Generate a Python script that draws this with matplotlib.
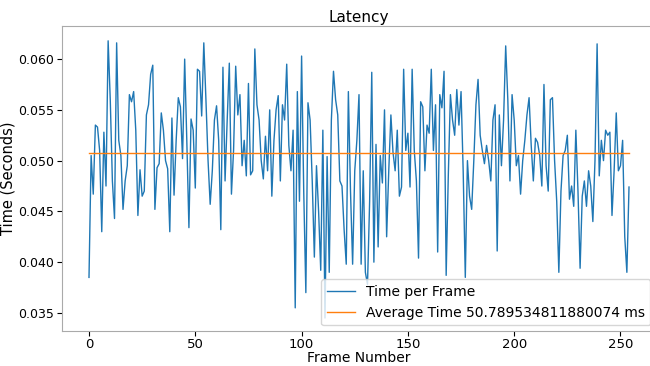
import matplotlib
matplotlib.use("Agg")
from matplotlib import pyplot as plt

# latency per frame in seconds
frame_times = [
    0.0385, 0.0505, 0.0467, 0.0535, 0.0533, 0.0510, 0.0430, 0.0528, 0.0475, 0.0618,
    0.0560, 0.0480, 0.0443, 0.0616, 0.0520, 0.0505, 0.0452, 0.0480, 0.0495, 0.0565,
    0.0558, 0.0568, 0.0530, 0.0446, 0.0491, 0.0465, 0.0470, 0.0545, 0.0555, 0.0585,
    0.0594, 0.0452, 0.0493, 0.0497, 0.0547, 0.0530, 0.0500, 0.0492, 0.0430, 0.0542,
    0.0466, 0.0520, 0.0562, 0.0553, 0.0502, 0.0600, 0.0520, 0.0434, 0.0541, 0.0530,
    0.0473, 0.0590, 0.0588, 0.0544, 0.0616, 0.0560, 0.0500, 0.0457, 0.0490, 0.0540,
    0.0554, 0.0520, 0.0432, 0.0592, 0.0480, 0.0540, 0.0596, 0.0467, 0.0510, 0.0593,
    0.0545, 0.0565, 0.0495, 0.0520, 0.0485, 0.0576, 0.0486, 0.0490, 0.0610, 0.0555,
    0.0540, 0.0500, 0.0482, 0.0524, 0.0490, 0.0550, 0.0465, 0.0520, 0.0550, 0.0564,
    0.0480, 0.0555, 0.0540, 0.0595, 0.0515, 0.0490, 0.0530, 0.0355, 0.0568, 0.0460,
    0.0603, 0.0470, 0.0370, 0.0557, 0.0540, 0.0480, 0.0405, 0.0495, 0.0450, 0.0392,
    0.0530, 0.0345, 0.0504, 0.0390, 0.0540, 0.0588, 0.0560, 0.0545, 0.0480, 0.0475,
    0.0432, 0.0398, 0.0568, 0.0470, 0.0398, 0.0490, 0.0520, 0.0565, 0.0398, 0.0490,
    0.0390, 0.0378, 0.0460, 0.0587, 0.0400, 0.0516, 0.0415, 0.0505, 0.0478, 0.0550,
    0.0425, 0.0490, 0.0545, 0.0508, 0.0490, 0.0530, 0.0465, 0.0474, 0.0590, 0.0510,
    0.0527, 0.0474, 0.0590, 0.0510, 0.0480, 0.0404, 0.0558, 0.0553, 0.0490, 0.0535,
    0.0527, 0.0590, 0.0510, 0.0555, 0.0410, 0.0565, 0.0552, 0.0588, 0.0387, 0.0485,
    0.0565, 0.0540, 0.0525, 0.0570, 0.0535, 0.0568, 0.0490, 0.0385, 0.0500, 0.0465,
    0.0452, 0.0500, 0.0555, 0.0580, 0.0525, 0.0510, 0.0497, 0.0515, 0.0500, 0.0480,
    0.0540, 0.0555, 0.0411, 0.0545, 0.0495, 0.0540, 0.0613, 0.0560, 0.0480, 0.0565,
    0.0540, 0.0495, 0.0505, 0.0467, 0.0500, 0.0520, 0.0545, 0.0562, 0.0515, 0.0480,
    0.0522, 0.0518, 0.0505, 0.0475, 0.0575, 0.0495, 0.0470, 0.0560, 0.0562, 0.0500,
    0.0460, 0.0390, 0.0470, 0.0505, 0.0510, 0.0525, 0.0462, 0.0475, 0.0455, 0.0530,
    0.0470, 0.0394, 0.0465, 0.0480, 0.0455, 0.0490, 0.0475, 0.0440, 0.0500, 0.0615,
    0.0485, 0.0520, 0.0500, 0.0530, 0.0525, 0.0528, 0.0446, 0.0490, 0.0547, 0.0490,
    0.0495, 0.0520, 0.0425, 0.0390, 0.0474,
]
frames = list(range(len(frame_times)))

# average as printed in the legend
avg_ms = 50.789534811880074
avg_line = [avg_ms / 1000] * len(frames)

fig = plt.figure(figsize=(6.5, 3.66), dpi=100)
top, bottom = 26, 331
ax = fig.add_axes([62 / 650, 1 - bottom / 366, (656 - 62) / 650, (bottom - top) / 366])

ax.plot(frames, frame_times, lw=1.0, label="Time per Frame")
ax.plot(frames, avg_line, lw=1.0, label=f"Average Time {avg_ms} ms")

ax.set_ylim(0.03322, 0.06326)
ax.set_title("Latency", fontsize=11, pad=3)
ax.set_xlabel("Frame Number", fontsize=10)
ax.set_ylabel("Time (Seconds)", fontsize=10.5)
ax.xaxis.set_label_coords(0.5, -0.064)
ax.yaxis.set_label_coords(-0.078, 0.5)
ax.tick_params(labelsize=9.5)
ax.tick_params(axis="y", labelsize=9, pad=2)
ax.tick_params(axis="x", pad=1.5)
ax.set_xticks([0, 50, 100, 150, 200, 250])
ax.set_yticks([0.035, 0.040, 0.045, 0.050, 0.055, 0.060])
for s in ax.spines.values():
    s.set_color("#aaaaaa")
ax.legend(loc="lower right", fontsize=10, borderaxespad=0.4)

fig.savefig("out.png", dpi=100)
